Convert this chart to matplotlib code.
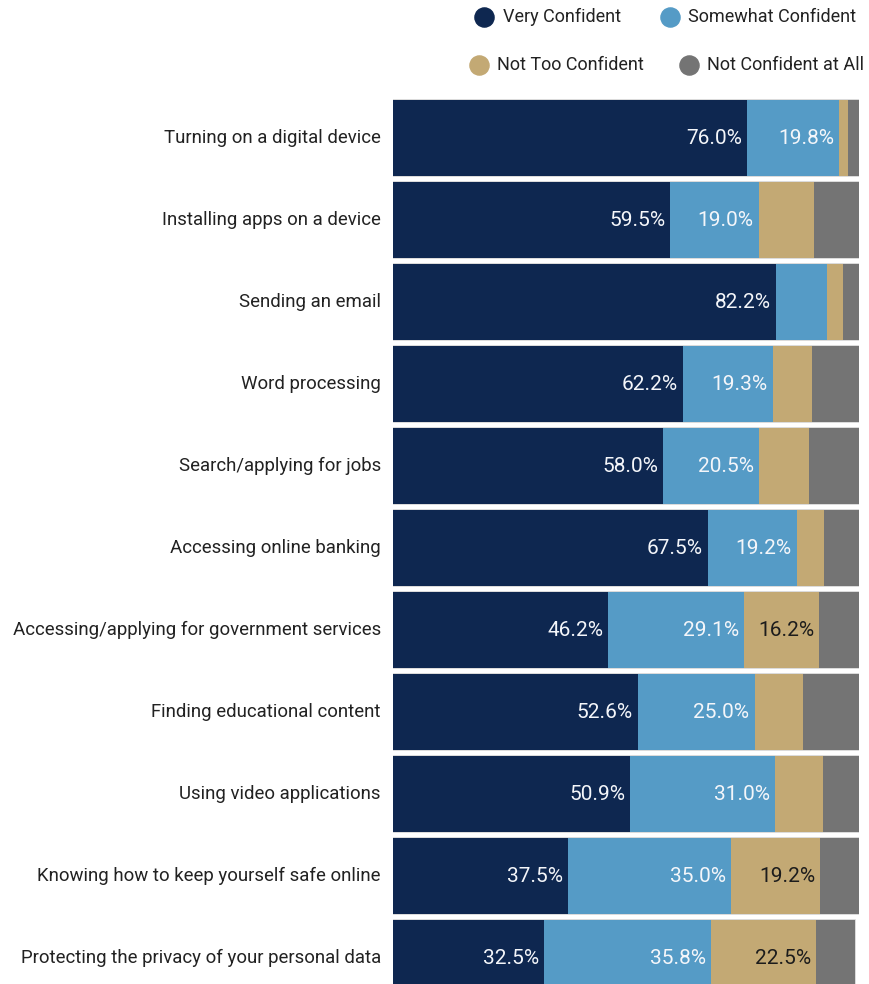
import matplotlib
matplotlib.use("Agg")
import matplotlib.pyplot as plt
import numpy as np

# ------------------ Survey data ------------------
categories = [
    "Turning on a digital device",
    "Installing apps on a device",
    "Sending an email",
    "Word processing",
    "Search/applying for jobs",
    "Accessing online banking",
    "Accessing/applying for government services",
    "Finding educational content",
    "Using video applications",
    "Knowing how to keep yourself safe online",
    "Protecting the privacy of your personal data",
]
very_confident = [76.0, 59.5, 82.2, 62.2, 58.0, 67.5, 46.2, 52.6, 50.9, 37.5, 32.5]
somewhat_confident = [19.8, 19.0, 10.9, 19.3, 20.5, 19.2, 29.1, 25.0, 31.0, 35.0, 35.8]
not_too_confident = [1.9, 11.8, 3.4, 8.4, 10.7, 5.8, 16.2, 10.3, 10.3, 19.2, 22.5]
not_confident_at_all = [2.3, 9.7, 3.5, 10.1, 10.8, 7.5, 8.5, 12.1, 7.8, 8.3, 8.4]

series_names = ["Very Confident", "Somewhat Confident", "Not Too Confident", "Not Confident at All"]
colors = ["#0e2750", "#559bc6", "#c3a974", "#747474"]
label_colors = ["#f4f6fa", "#f4f6fa", "#1c1c1c", "#f4f6fa"]

plt.rcParams["font.family"] = ["Roboto", "DejaVu Sans"]

W, H = 870, 984
fig = plt.figure(figsize=(W / 100, H / 100), dpi=100)

# plot area in pixels: bars run from x=393 to x=859, first bar top at y=100
ax_left, ax_right = 393, 859
ax_top = 96
ax = fig.add_axes([ax_left / W, 0, (ax_right - ax_left) / W, (H - ax_top) / H])

pitch = 82.0
bar_h = 76.0 / pitch
y = np.arange(len(categories))

# thin outline round each whole bar, drawn underneath the segments
totals = np.sum([very_confident, somewhat_confident, not_too_confident, not_confident_at_all], axis=0)
ax.barh(y, totals, height=bar_h, facecolor="none", edgecolor="#d4d4d4", linewidth=1.2, zorder=1)

series = [very_confident, somewhat_confident, not_too_confident, not_confident_at_all]
left = np.zeros(len(categories))
for vals, name, col, lc in zip(series, series_names, colors, label_colors):
    vals = np.array(vals)
    ax.barh(y, vals, left=left, height=bar_h, color=col, label=name, zorder=2)
    for yi, v, l in zip(y, vals, left):
        if v >= 15:
            ax.text(l + v - 1.1, yi, f"{v:.1f}%", ha="right", va="center",
                    color=lc, fontsize=15, zorder=3)
    left += vals

ax.set_xlim(0, 100)
top_lim = -(138 - ax_top) / pitch
bottom_lim = (len(categories) - 1) + (H - (138 + pitch * (len(categories) - 1))) / pitch
ax.set_ylim(bottom_lim, top_lim)
ax.axis("off")

for yi, cat in zip(y, categories):
    ax.text(-2.6, yi, cat, ha="right", va="center", fontsize=13.4, color="#222222",
            clip_on=False)

# legend, two rows at the top right
legend_items = [
    (484, 17, 503, series_names[0], colors[0]),
    (670, 17, 688, series_names[1], colors[1]),
    (479, 65, 497, series_names[2], colors[2]),
    (689, 65, 707, series_names[3], colors[3]),
]
for cx, cy, tx, name, col in legend_items:
    fig.text(tx / W, 1 - cy / H, name, ha="left", va="center", fontsize=13, color="#222222")
    ax.scatter([cx / W], [1 - cy / H], s=190, color=col, transform=fig.transFigure,
               clip_on=False, zorder=5)

fig.savefig("out.png", dpi=100, facecolor="white")
